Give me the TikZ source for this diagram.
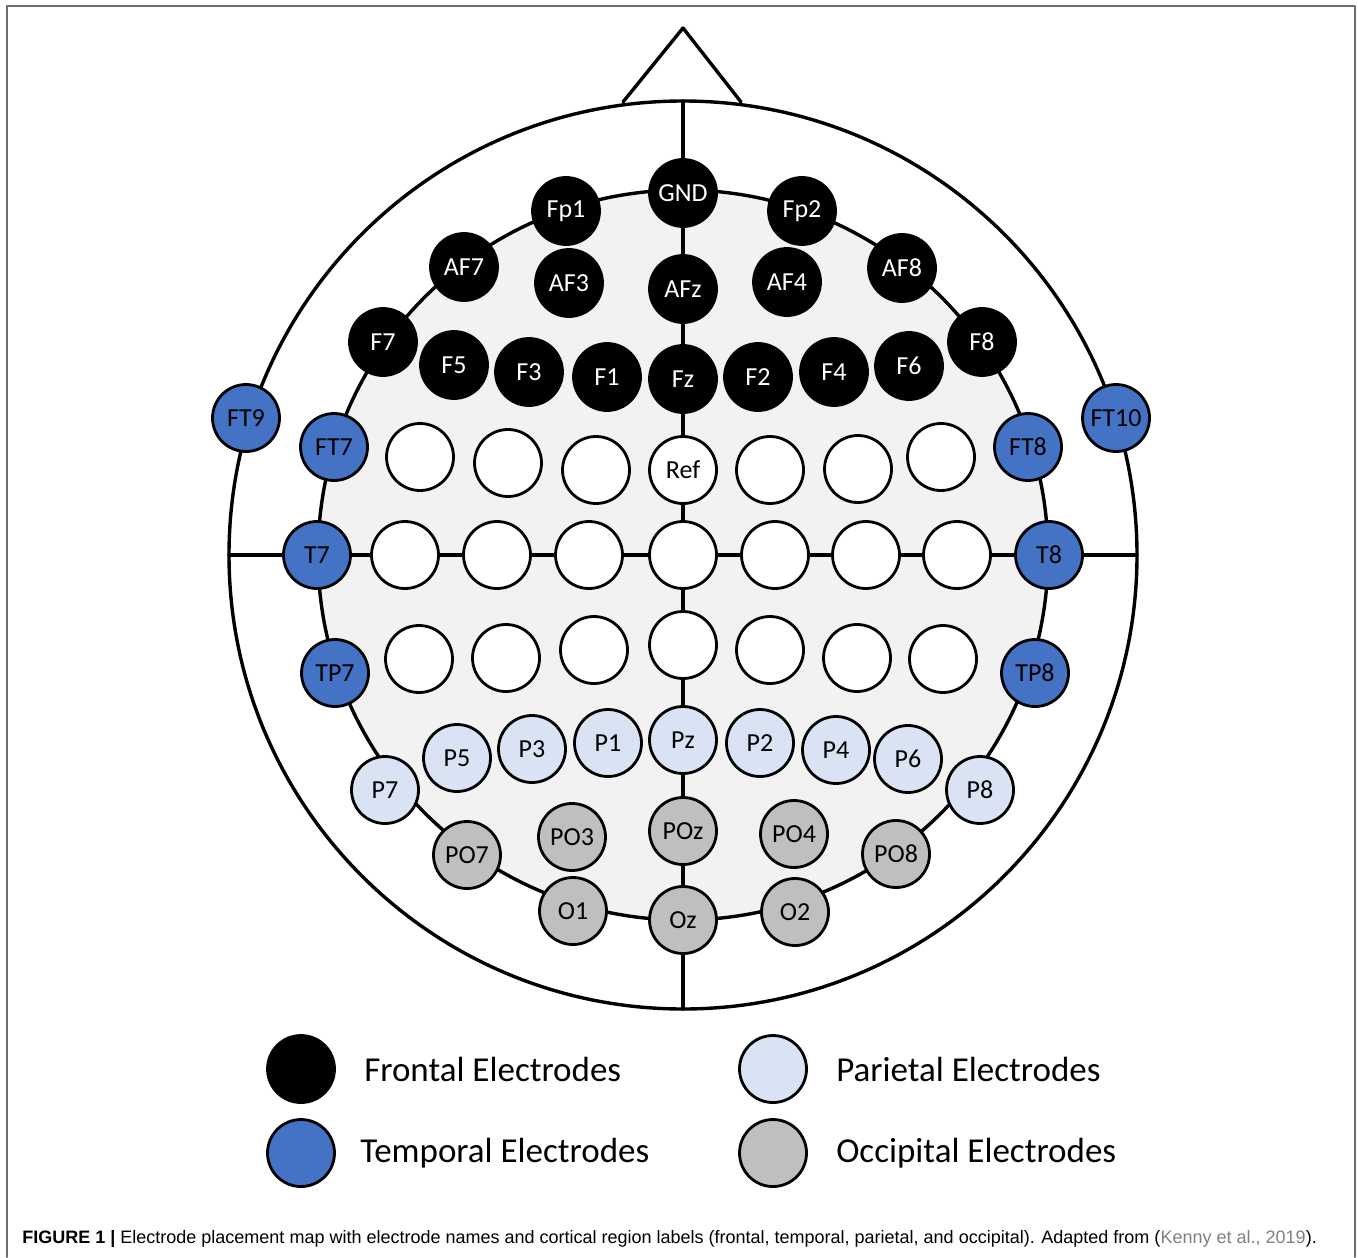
\documentclass[tikz,border=0pt]{standalone}
\usepackage{fontspec}
\setmainfont{Carlito}
\newfontfamily\capfont{Liberation Sans}
\usetikzlibrary{positioning}
\definecolor{tempblue}{HTML}{4472C4}
\definecolor{parblue}{HTML}{DAE3F3}
\definecolor{occgray}{HTML}{BFBFBF}
\definecolor{scalp}{HTML}{F2F2F2}
\definecolor{framegray}{HTML}{6E6E6E}

\begin{document}
\begin{tikzpicture}[line cap=round,line join=round,x=0.5pt,y=-0.5pt,
  head/.style={line width=1.7pt},
  elec/.style={circle,draw=black,line width=1.4pt,minimum size=33.5pt,inner sep=0pt,font=\fontsize{13}{13}\selectfont},
  front/.style={elec,fill=black,text=white},
  temp/.style={elec,fill=tempblue},
  pari/.style={elec,fill=parblue},
  occi/.style={elec,fill=occgray},
  blank/.style={elec,fill=white},
  legtext/.style={font=\fontsize{17.5}{17.5}\selectfont,inner sep=0pt}]
\useasboundingbox (0,0) rectangle (1358,1257);
\draw [framegray,line width=1pt] (7,1257)--(7,6)--(1355,6)--(1355,1257);
% head, nose, scalp
\draw [head] (623,102)--(683,28)--(741,102);
\draw [head] (683,555) circle [radius=454];
\draw [head,fill=scalp] (683,555) circle [radius=365];
\coordinate (nasion) at (683,101);
\coordinate (inion) at (683,1009);
\coordinate (lear) at (229,555);
\coordinate (rear) at (1137,555);
\draw [head] (nasion)--(inion);
\draw [head] (lear)--(rear);
% electrodes
\foreach \n/\x/\y in {GND/683/193,Fp1/566/211,Fp2/802/211,AF7/464/267,AF3/569/283,AFz/683/289,AF4/787/282,AF8/902/268,
  F7/383/342,F5/454/365,F3/529/372,F1/607/377,Fz/683/379,F2/758/377,F4/834/372,F6/909/366,F8/982/342}
  \node [front] (\n) at (\x,\y) {\n};
\foreach \n/\x/\y in {FT9/246/418,FT7/334/447,FT8/1028/447,FT10/1116/418,T7/317/555,T8/1049/555,TP7/335/673,TP8/1035/673}
  \node [temp] (\n) at (\x,\y) {\n};
\foreach \n/\x/\y in {FC5/420/457,FC3/508/463,FC1/596/470,FC2/770/470,FC4/858/469,FC6/941/457,
  C5/405/555,C3/497/555,C1/589/555,Cz/683/555,C2/775/555,C4/866/555,C6/957/555,
  CP5/419/659,CP3/506/658,CP1/594/650,CPz/683/645,CP2/770/650,CP4/857/658,CP6/943/659}
  \node [blank] (\n) at (\x,\y) {};
\node [blank] (Ref) at (683,470) {Ref};
\foreach \n/\x/\y in {P7/385/790,P5/457/758,P3/532/749,P1/608/743,Pz/683/740,P2/760/743,P4/836/750,P6/908/759,P8/980/790}
  \node [pari] (\n) at (\x,\y) {\n};
\foreach \n/\x/\y in {PO7/467/855,PO3/572/837,POz/683/831,PO4/794/834,PO8/896/854,O1/573/911,Oz/683/920,O2/795/912}
  \node [occi] (\n) at (\x,\y) {\n};
% legend
\node [front] (lgfront) at (301,1069) {};
\node [temp] (lgtemp) at (301,1153) {};
\node [pari] (lgpari) at (773,1069) {};
\node [occi] (lgocci) at (773,1153) {};
\node [legtext,right=14pt of lgfront] {Frontal Electrodes};
\node [legtext,right=12pt of lgtemp] {Temporal Electrodes};
\node [legtext,right=14pt of lgpari] {Parietal Electrodes};
\node [legtext,right=14pt of lgocci] {Occipital Electrodes};
% caption
\node [anchor=base west,inner sep=0pt,font=\capfont\fontsize{9}{11}\selectfont] (caption) at (22,1243)
  {\textbf{FIGURE 1 |} Electrode placement map with electrode names and cortical region labels (frontal, temporal, parietal, and occipital). Adapted from ({\color{gray}Kenny et al., 2019}).};
\end{tikzpicture}
\end{document}
